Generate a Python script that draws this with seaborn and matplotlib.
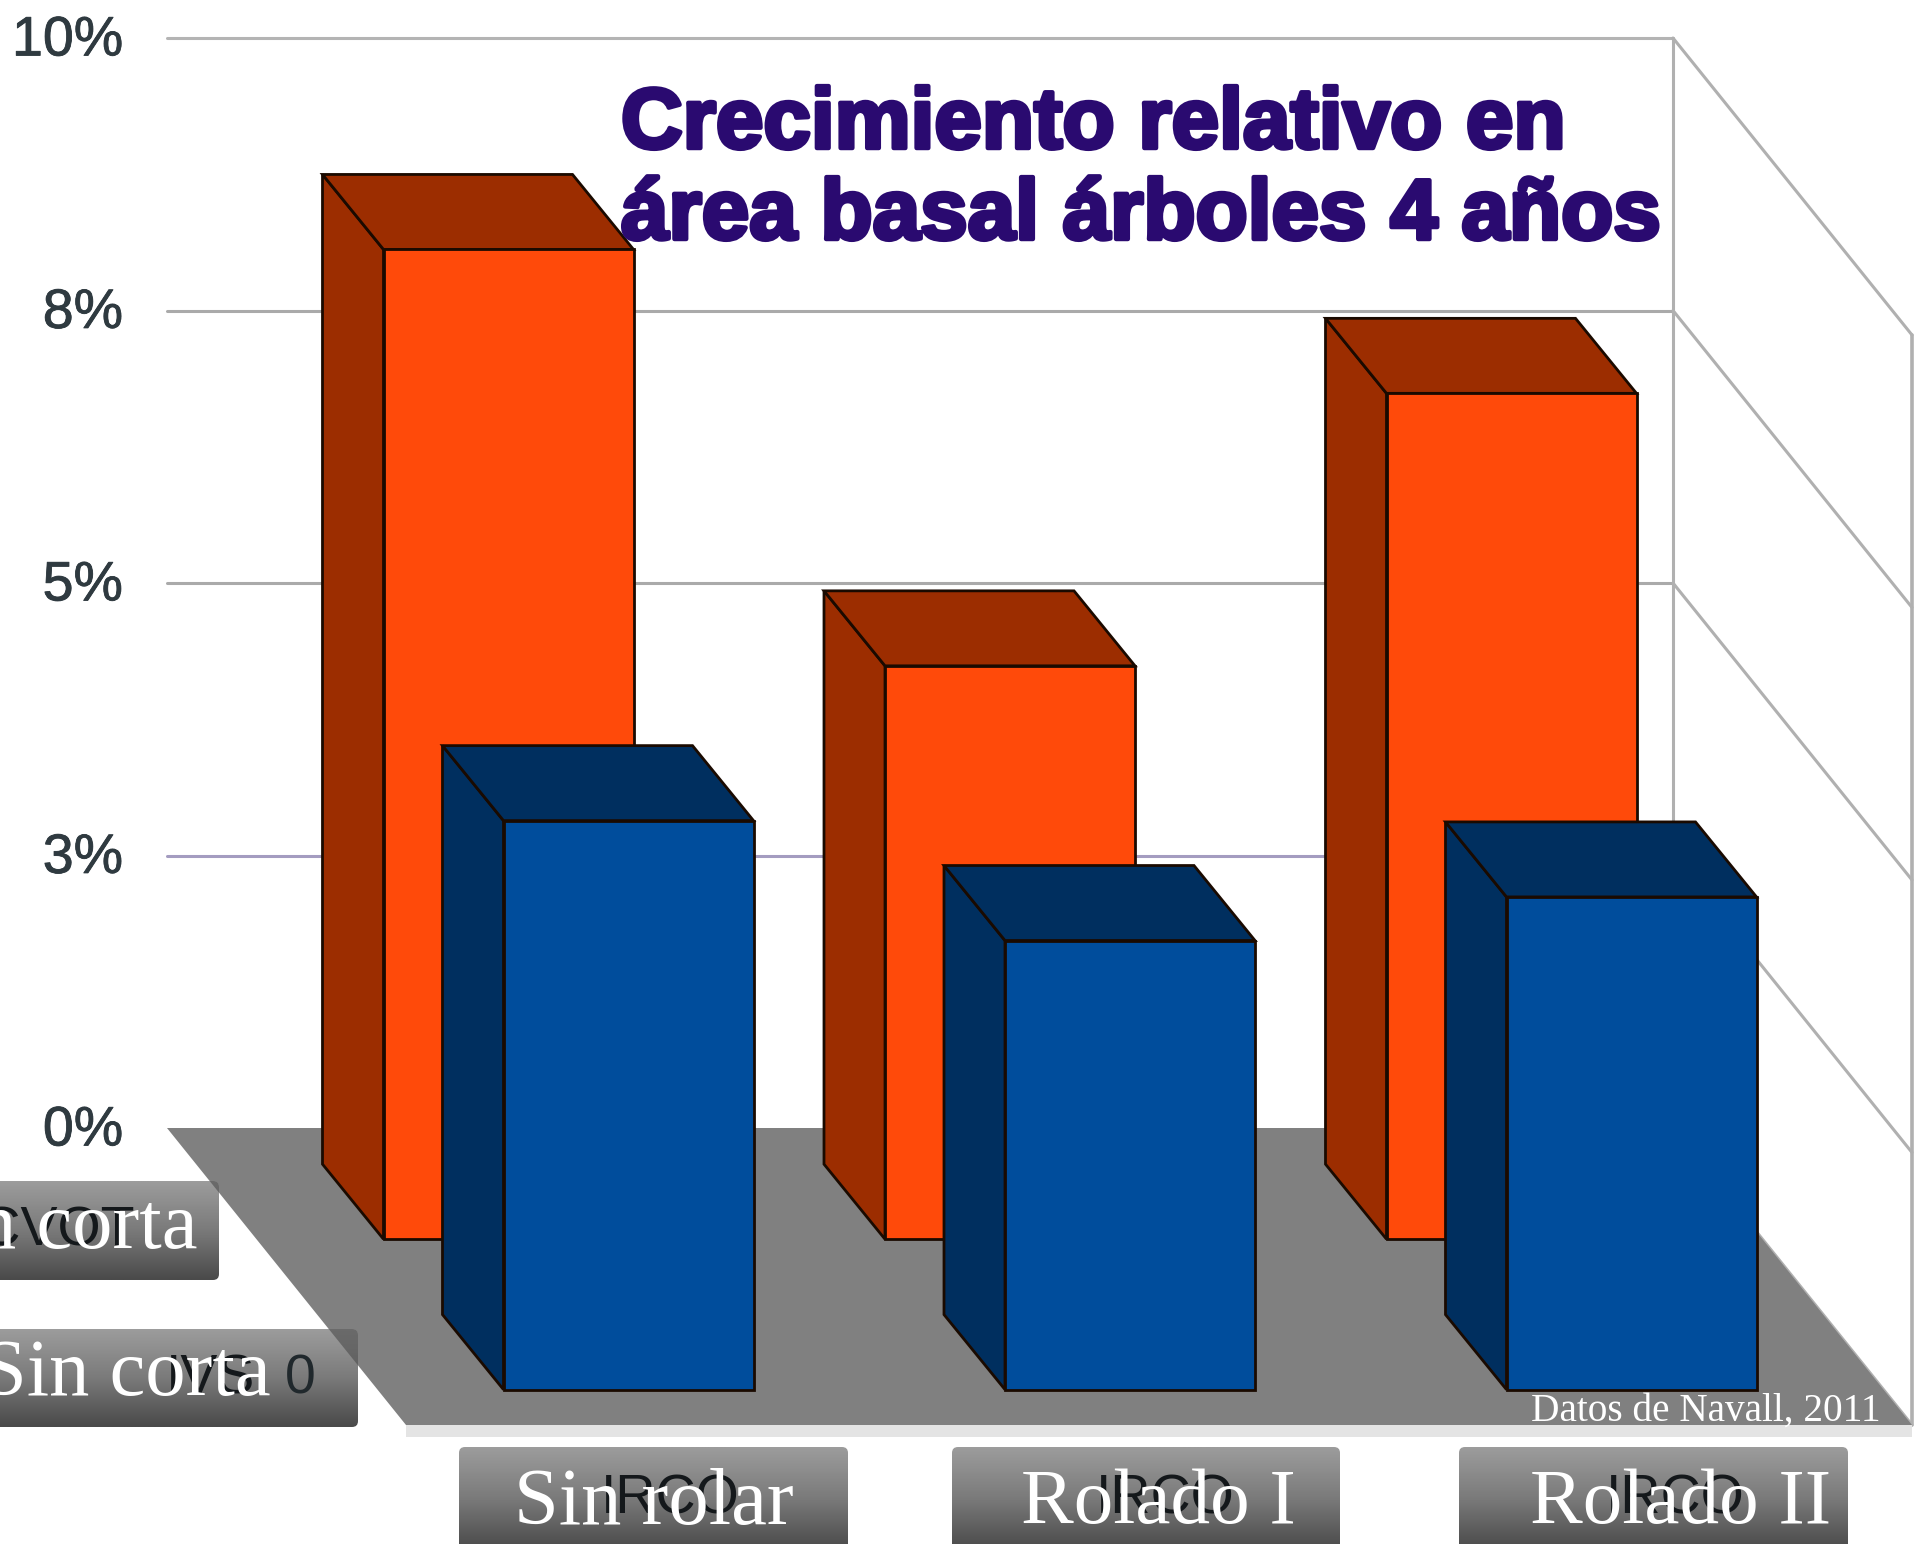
import matplotlib
matplotlib.use("Agg")
import matplotlib.pyplot as plt
import matplotlib.patheffects as pe
from matplotlib.patches import Polygon, FancyBboxPatch
import numpy as np
import pandas as pd
import seaborn as sns

# ---- data -------------------------------------------------------------
categories = ["Sin rolar", "Rolado I", "Rolado II"]
con_corta = [9.08, 5.26, 7.76]
sin_corta = [5.22, 4.12, 4.52]
series_names = ["Con corta", "Sin corta"]
tick_values = [0, 2.5, 5, 7.5, 10]
tick_labels = ["0%", "3%", "5%", "8%", "10%"]
title_lines = ["Crecimiento relativo en", "área basal árboles 4 años"]
credit = "Datos de Navall, 2011"
# dark labels of the underlying slide, half hidden by the white ones (best reading)
under_cat = "IRCO"
under_series = ["IHCVOT", "IVS"]

# ---- geometry of the pseudo-3D view --------------------------------------
W, H = 1921, 1544
PX_X, PX_Y = 501.5, 109.0           # pixels per category / per percent
X0_PX, Y0_PX = 508.5, 1128.0        # where category 0 / 0% sit
WALL_L, WALL_R = (167 - X0_PX) / PX_X, (1673 - X0_PX) / PX_X
DEPTH_X, DEPTH_Y = 239 / PX_X, -297 / PX_Y     # floor depth vector
BAR_DX, BAR_DY = -61 / PX_X, 75 / PX_Y         # bar depth vector
BAR_W = 250 / PX_X

sns.set_theme(style="white")
fig = plt.figure(figsize=(W / 100, H / 100), dpi=100, facecolor="white")
ax = fig.add_axes([0, 0, 1, 1])
ax.set_facecolor("white")

# walls and floor
grid_c = {0: "#aaaaaa", 2.5: "#a49cc0", 5: "#aaaaaa", 7.5: "#aaaaaa", 10: "#b4b4b4"}
for v in tick_values:
    if v > 0:
        ax.plot([WALL_L, WALL_R], [v, v], color=grid_c[v], lw=2.2, zorder=1)
    ax.plot([WALL_R, WALL_R + DEPTH_X], [v, v + DEPTH_Y], color="#b0b0b0", lw=2.2, zorder=1)
ax.plot([WALL_R, WALL_R], [0, 10], color="#b0b0b0", lw=2.2, zorder=1)
ax.plot([WALL_R + DEPTH_X] * 2, [DEPTH_Y, 10 + DEPTH_Y], color="#b0b0b0", lw=2.6, zorder=1)
ax.add_patch(Polygon([(WALL_L + DEPTH_X, DEPTH_Y - 0.11), (WALL_R + DEPTH_X, DEPTH_Y - 0.11),
                      (WALL_R + DEPTH_X, DEPTH_Y), (WALL_L + DEPTH_X, DEPTH_Y)],
                     facecolor="#e4e4e4", edgecolor="none", zorder=1.5))
ax.add_patch(Polygon([(WALL_L, 0), (WALL_R, 0), (WALL_R + DEPTH_X, DEPTH_Y), (WALL_L + DEPTH_X, DEPTH_Y)],
                     facecolor="#808080", edgecolor="none", zorder=2))

# bars
series = [
    dict(name=series_names[0], vals=con_corta, shift=0.0, base=-1.02, front="#FF4A0A", dark="#9C2D00", z=4),
    dict(name=series_names[1], vals=sin_corta, shift=120.0 / PX_X, base=-2.40, front="#004D9C", dark="#002F5F", z=5),
]
EDGE = "#1a0a00"
for s in series:
    pos = np.arange(len(categories)) + s["shift"]
    df = pd.DataFrame({"pos": pos, "valor": s["vals"]})
    for x, v in zip(pos, s["vals"]):
        l, top, bot = x - BAR_W / 2, s["base"] + v, s["base"]
        ax.add_patch(Polygon([(l, bot), (l, top), (l + BAR_DX, top + BAR_DY), (l + BAR_DX, bot + BAR_DY)],
                             facecolor=s["dark"], edgecolor=EDGE, lw=2, zorder=s["z"], joinstyle="miter"))
        ax.add_patch(Polygon([(l, top), (l + BAR_W, top), (l + BAR_W + BAR_DX, top + BAR_DY), (l + BAR_DX, top + BAR_DY)],
                             facecolor=s["dark"], edgecolor=EDGE, lw=2, zorder=s["z"], joinstyle="miter"))
    sns.barplot(data=df, x="pos", y="valor", native_scale=True, width=BAR_W, color=s["front"], saturation=1,
                bottom=s["base"], edgecolor=EDGE, linewidth=2, zorder=s["z"], ax=ax, errorbar=None)

ax.set_xlim(-X0_PX / PX_X, (W - X0_PX) / PX_X)
ax.set_ylim(-(H - Y0_PX) / PX_Y, Y0_PX / PX_Y)
ax.set_axis_off()

# value labels on the wall
for v, lab in zip(tick_values, tick_labels):
    ax.text((123 - X0_PX) / PX_X, v - 0.16, lab, ha="right", va="baseline", color="#2f3a40",
            fontsize=40, family="Liberation Sans", zorder=9,
            path_effects=[pe.withStroke(linewidth=0.6, foreground="#2f3a40")])

# overlay in pixel coordinates for the annotation boxes
ov = fig.add_axes([0, 0, 1, 1], facecolor="none")
ov.set_xlim(0, W); ov.set_ylim(H, 0); ov.set_axis_off()
grad = np.linspace(0, 1, 64).reshape(-1, 1)
cmap = matplotlib.colors.LinearSegmentedColormap.from_list("b", ["#9c9c9c", "#7a7a7a", "#4a4a4a"])
SERIF = "Liberation Serif"
floor_px = [(167, 1128), (1673, 1128), (1912, 1425), (406, 1425)]

def box(x0, x1, y0, y1, label, tx, size=58, under=None, under_x=0):
    im = ov.imshow(grad, extent=(x0, x1, y1, y0), cmap=cmap, aspect="auto", zorder=6)
    clip = FancyBboxPatch((x0 + 4, y0 + 4), x1 - x0 - 8, y1 - y0 - 8, boxstyle="round,pad=4,rounding_size=6",
                          transform=ov.transData, facecolor="none", edgecolor="none")
    ov.add_patch(clip)
    im.set_clip_path(clip)
    corner = Polygon(floor_px, facecolor="#505050", edgecolor="none", alpha=0.65, zorder=6.5, transform=ov.transData)
    ov.add_patch(corner)
    corner.set_clip_path(clip)
    if under:
        ov.text(under_x, (y0 + y1) / 2 + 1, under, ha="right", va="center", color="#14181b",
                fontsize=40, family="Liberation Sans", zorder=7)
    ov.text(tx, (y0 + y1) / 2 + (6 if y1 > 1500 else -2), label, ha="right", va="center", color="white",
            fontsize=size, family=SERIF, zorder=8)

box(459, 848, 1447, 1550, categories[0], 794, 58, under_cat, 740)
box(952, 1340, 1447, 1550, categories[1], 1296, 57, under_cat, 1235)
box(1459, 1848, 1447, 1550, categories[2], 1831, 57, under_cat, 1745)
box(-30, 219, 1181, 1280, series_names[0], 197, 58, under_series[0], 135)
box(-30, 358, 1329, 1427, series_names[1], 271, 58, under_series[1], 255)
ov.text(300, 1380, "0", ha="center", va="center", color="#20282c", fontsize=40, family="Liberation Sans", zorder=7)
ov.set_xlim(0, W); ov.set_ylim(H, 0)

ov.text(1531, 1411, credit, ha="left", va="center", color="white", fontsize=28.3, family=SERIF, zorder=8)

# title
for txt, base in zip(title_lines, [148, 239]):
    ov.text(621, base, txt, ha="left", va="baseline", color="#2A0A70", fontsize=61.5,
            family="Liberation Sans", weight="bold", zorder=9,
            path_effects=[pe.withStroke(linewidth=3.2, foreground="#2A0A70")])

fig.savefig("out.png", dpi=100, facecolor="white")
